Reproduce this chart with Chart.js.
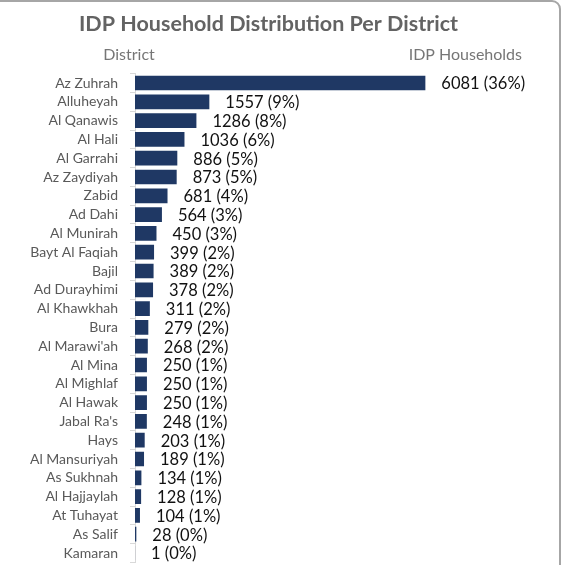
<!DOCTYPE html>
<html>
<head>
<meta charset="utf-8">
<script src="https://cdn.jsdelivr.net/npm/chart.js@4/dist/chart.umd.min.js"></script>
<style>
    html, body { margin: 0; padding: 0; background: #fff; overflow: hidden; }
    #wrap { position: relative; width: 562px; height: 565px; }
    #frame {
        position: absolute; left: -20px; top: 0; width: 581px; height: 600px;
        box-sizing: border-box; border: 2px solid #a6a6a6; border-radius: 9px;
    }
    #chart { position: absolute; left: 0; top: 0; }
</style>
</head>
<body>
<div id="wrap">
    <div id="frame"></div>
    <canvas id="chart" width="562" height="565"></canvas>
</div>
<script>
const districts = [
    'Az Zuhrah', 'Alluheyah', 'Al Qanawis', 'Al Hali', 'Al Garrahi', 'Az Zaydiyah',
    'Zabid', 'Ad Dahi', 'Al Munirah', 'Bayt Al Faqiah', 'Bajil', 'Ad Durayhimi',
    'Al Khawkhah', 'Bura', "Al Marawi'ah", 'Al Mina', 'Al Mighlaf', 'Al Hawak',
    "Jabal Ra's", 'Hays', 'Al Mansuriyah', 'As Sukhnah', 'Al Hajjaylah', 'At Tuhayat',
    'As Salif', 'Kamaran'
];
const households = [
    6081, 1557, 1286, 1036, 886, 873,
    681, 564, 450, 399, 389, 378,
    311, 279, 268, 250, 250, 250,
    248, 203, 189, 134, 128, 104,
    28, 1
];
const shares = [
    36, 9, 8, 6, 5, 5,
    4, 3, 3, 2, 2, 2,
    2, 2, 2, 1, 1, 1,
    1, 1, 1, 1, 1, 1,
    0, 0
];
const chartTitle = 'IDP Household Distribution Per District';
const leftHeader = 'District';
const rightHeader = 'IDP Households';

const FONT = 'Lato, "Open Sans", sans-serif';
const GREY = '#595959';

document.addEventListener('DOMContentLoaded', () => {
    initChart();
});

// title + the two column headers
const headerPlugin = {
    id: 'headers',
    afterDraw(chart) {
        const ctx = chart.ctx;
        ctx.save();
        ctx.textBaseline = 'middle';
        ctx.textAlign = 'center';
        ctx.fillStyle = '#636363';
        ctx.font = `bold 21.5px ${FONT}`;
        ctx.fillText(chartTitle, 268.5, 24);
        ctx.fillStyle = '#767676';
        ctx.font = `16px ${FONT}`;
        ctx.fillText(leftHeader, 129, 54.5);
        ctx.textAlign = 'right';
        ctx.fillText(rightHeader, 522, 54.5);
        ctx.restore();
    },
};

// "value (pct%)" to the right of each bar
const valueLabelPlugin = {
    id: 'valueLabels',
    afterDatasetsDraw(chart) {
        const ctx = chart.ctx;
        const meta = chart.getDatasetMeta(0);
        ctx.save();
        ctx.fillStyle = '#111';
        ctx.font = `16.5px ${FONT}`;
        ctx.textAlign = 'left';
        ctx.textBaseline = 'middle';
        meta.data.forEach((bar, i) => {
            ctx.fillText(`${households[i]} (${shares[i]}%)`, bar.x + 16, bar.y + 1);
        });
        ctx.restore();
    },
};

function initChart() {
    const el = document.getElementById('chart');
    new Chart(el, {
        type: 'bar',
        data: {
            labels: districts,
            datasets: [{
                data: households,
                backgroundColor: '#1f3864',
                barPercentage: 0.78,
                categoryPercentage: 1,
            }],
        },
        options: {
            indexAxis: 'y',
            responsive: false,
            animation: false,
            layout: { padding: { top: 73.6, bottom: 2.6, left: 0, right: 45 } },
            plugins: { legend: { display: false }, tooltip: { enabled: false } },
            scales: {
                x: { display: false, min: 0, max: 8000 },
                y: {
                    afterFit: (scale) => {
                        scale.width = 135;
                        scale.paddingTop = 0;
                        scale.paddingBottom = 0;
                    },
                    grid: {
                        drawOnChartArea: false,
                        tickLength: 5,
                        color: '#d9d9d9',
                    },
                    border: { color: '#d9d9d9', width: 1 },
                    ticks: {
                        color: GREY,
                        padding: 12,
                        autoSkip: false,
                        font: { family: FONT, size: 14 },
                    },
                },
            },
        },
        plugins: [headerPlugin, valueLabelPlugin],
    });
}
</script>
</body>
</html>
